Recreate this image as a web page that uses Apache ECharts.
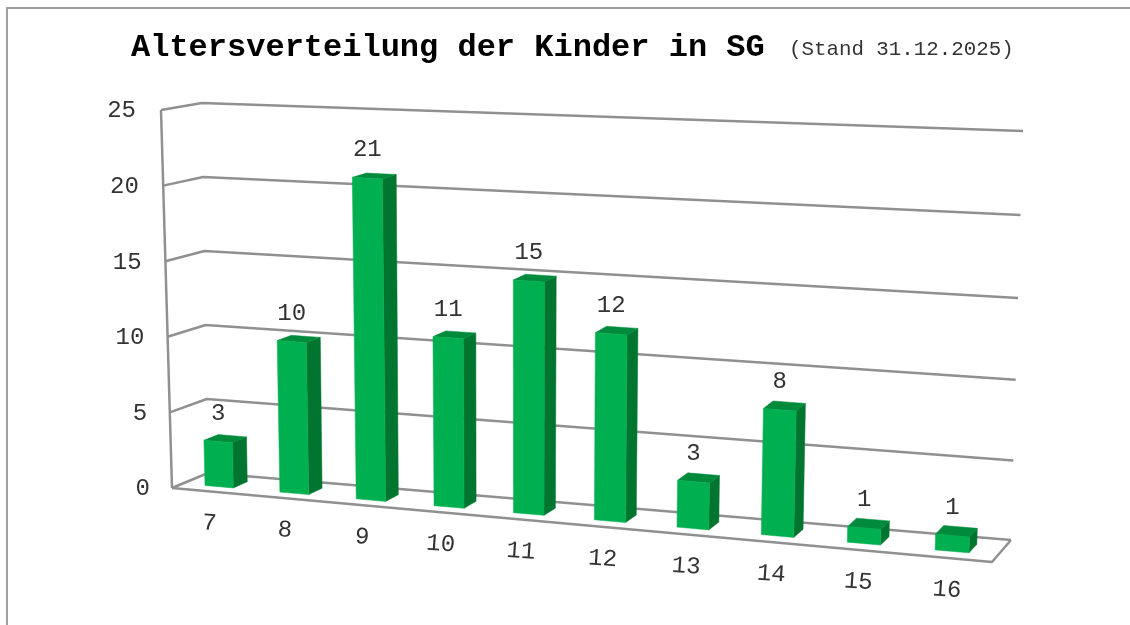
<!DOCTYPE html>
<html>
<head>
<meta charset="utf-8">
<style>html,body{margin:0;padding:0;background:#fff}#c{width:1130px;height:625px}</style>
<script src="https://cdn.jsdelivr.net/npm/echarts@6/dist/echarts.min.js"></script>
</head>
<body>
<div id="c"></div>
<script>
const titleText = 'Altersverteilung der Kinder in SG';
const subtitleText = '(Stand 31.12.2025)';
const categories = ['7','8','9','10','11','12','13','14','15','16'];
const values = [3,10,21,11,15,12,3,8,1,1];
const tickValues = [0,5,10,15,20,25];

// Perspective box corners of the plot: [front|back][left|right][floor|top]
const box = {
  fl0:[172,488], fr0:[992,562], fl1:[161,110], fr1:[1006,150],
  bl0:[208,473], br0:[1011,540], bl1:[202,103], br1:[1023,131]
};
const K = 0.905, barFront = 0.30, barBack = 0.70, barWidth = 0.038, barShift = -0.001, SAG = 0.035;
const warp = t => t*K/(1+(K-1)*t);
const mix = (a,b,u) => [a[0]+(b[0]-a[0])*u, a[1]+(b[1]-a[1])*u];
function project(t,h,z){
  const s = warp(t);
  const hh = h + SAG*s*h*(h-1);
  const f = mix(mix(box.fl0,box.fr0,s), mix(box.fl1,box.fr1,s), hh);
  const b = mix(mix(box.bl0,box.br0,s), mix(box.bl1,box.br1,s), hh);
  return mix(f,b,z);
}
// normalise a grid pixel position (from the library's scales) to the unit box
function unit(params,api,cat,val){
  const r = params.coordSys, p = api.coord([cat,val]);
  return [(p[0]-r.x)/r.width, (r.y+r.height-p[1])/r.height];
}
const lineStyle = {stroke:'#909090', lineWidth:2.5, fill:null, lineJoin:'round'};
const mono = '"Liberation Mono","Courier New",monospace';
const textColor = '#333333';

function wallItem(params,api){
  const v = api.value(0);
  const h = unit(params,api,0,v)[1];
  const kids = [{type:'polyline',shape:{points:[project(0,h,0),project(0,h,1),project(1,h,1)]},style:lineStyle}];
  if(v===tickValues[0]){
    kids.push({type:'polyline',shape:{points:[project(0,h,0),project(1,h,0),project(1,h,1)]},style:lineStyle});
    kids.push({type:'polyline',shape:{points:[project(0,0,0),project(0,1,0)]},style:lineStyle});
  }
  const p = project(0,h,0);
  kids.push({type:'text',x:p[0]-22-3*h,y:p[1]+1,style:{text:String(v),font:'24px '+mono,fill:textColor,align:'right',verticalAlign:'middle'}});
  return {type:'group',children:kids};
}
function poly(points,color){
  return {type:'polygon',shape:{points},style:{fill:color,stroke:color,lineWidth:0.5}};
}
function barItem(params,api){
  const i = api.value(0), v = api.value(1);
  const u = unit(params,api,i,v), t = u[0]+barShift, h = u[1], w = barWidth/2;
  const a=t-w, b=t+w;
  const side = poly([project(b,0,barFront),project(b,0,barBack),project(b,h,barBack),project(b,h,barFront)],'#00752F');
  const top = poly([project(a,h,barFront),project(b,h,barFront),project(b,h,barBack),project(a,h,barBack)],'#008A3C');
  const front = poly([project(a,0,barFront),project(b,0,barFront),project(b,h,barFront),project(a,h,barFront)],'#00B050');
  const lp = project(t,h,barFront);
  const label = {type:'text',x:lp[0],y:lp[1]-28,style:{text:String(v),font:'24px '+mono,fill:textColor,align:'center',verticalAlign:'middle'}};
  const cp = project(u[0],0,0);
  const cat = {type:'text',x:cp[0],y:cp[1]+32,rotation:-0.07,style:{text:categories[i],font:'24px '+mono,fill:textColor,align:'center',verticalAlign:'middle'}};
  return {type:'group',children:[side,top,front,label,cat]};
}

const chart = echarts.init(document.getElementById('c'),null,{renderer:'canvas'});
chart.setOption({
  animation:false,
  backgroundColor:'#fff',
  title:[
    {text:titleText,left:126,top:27,textStyle:{fontFamily:mono,fontWeight:'bold',fontSize:32,color:'#000'}},
    {text:subtitleText,left:784,top:34,textStyle:{fontFamily:mono,fontWeight:'normal',fontSize:20.8,color:'#333'}}
  ],
  graphic:[{type:'polyline',silent:true,shape:{points:[[7,625],[7,8],[1130,8]]},style:{stroke:'#a0a0a0',lineWidth:2,fill:null}}],
  grid:{left:172,top:110,width:820,height:378},
  xAxis:{type:'category',data:categories,show:false},
  yAxis:{type:'value',min:0,max:25,interval:5,show:false},
  series:[
    {type:'custom',coordinateSystem:'cartesian2d',renderItem:wallItem,data:tickValues.map(v=>[v]),encode:{y:0},silent:true,z:1,clip:false},
    {type:'custom',coordinateSystem:'cartesian2d',renderItem:barItem,data:values.map((v,i)=>[i,v]),encode:{x:0,y:1},z:2,clip:false}
  ]
});
</script>
</body>
</html>
